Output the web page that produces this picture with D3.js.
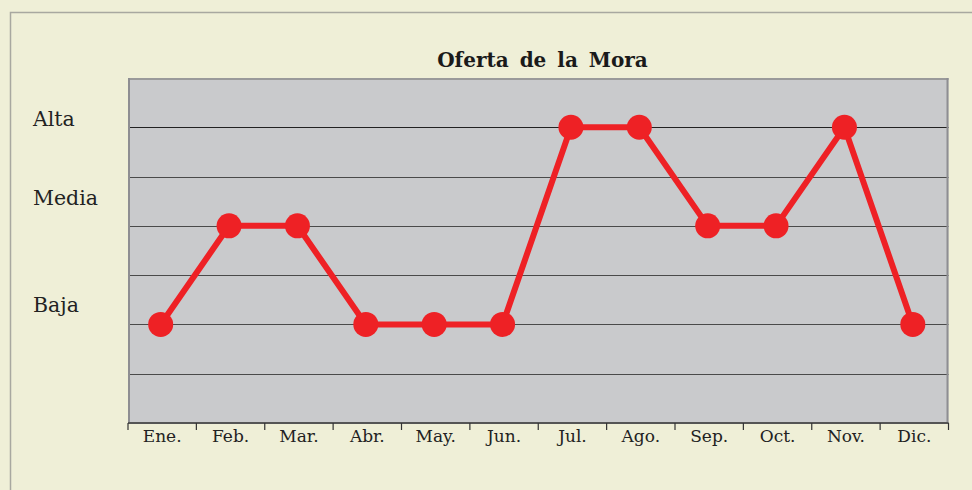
<!DOCTYPE html>
<html>
<head>
<meta charset="utf-8">
<script src="https://cdn.jsdelivr.net/npm/d3@7"></script>
<style>
  html, body { margin: 0; padding: 0; background: #EFEFD7; }
  svg { display: block; }
</style>
</head>
<body>
<svg id="chart" width="972" height="490"></svg>
<script>
const months = ["Ene.", "Feb.", "Mar.", "Abr.", "May.", "Jun.", "Jul.", "Ago.", "Sep.", "Oct.", "Nov.", "Dic."];
const levelLabels = ["Baja", "Media", "Alta"];
const levelValues = [2, 4, 6];
const oferta = [2, 4, 4, 2, 2, 2, 6, 6, 4, 4, 6, 2];
const gridValues = [1, 2, 3, 4, 5, 6];
const title = "Oferta de la Mora";

const svg = d3.select("#chart");
const W = 972, H = 490;
const plot = { left: 128, top: 78, right: 948.5, bottom: 423 };

svg.append("rect").attr("x", 0).attr("y", 0).attr("width", W).attr("height", H).attr("fill", "#EFEFD7");
svg.append("rect").attr("x", 10.5).attr("y", 12.5).attr("width", 1000).attr("height", 1000)
  .attr("fill", "none").attr("stroke", "#A8A8A0").attr("stroke-width", 1.5);

const x = d3.scaleBand().domain(months).range([plot.left, plot.right]).paddingInner(0).paddingOuter(0);
const y = d3.scaleLinear().domain([0, 7]).range([plot.bottom, plot.top]);

svg.append("rect").attr("x", plot.left).attr("y", plot.top)
  .attr("width", plot.right - plot.left).attr("height", plot.bottom - plot.top)
  .attr("fill", "#C9CACC");

// grid
svg.append("g").selectAll("line").data(gridValues).join("line")
  .attr("x1", plot.left).attr("x2", plot.right)
  .attr("y1", d => Math.round(y(d)) + 0.5).attr("y2", d => Math.round(y(d)) + 0.5)
  .attr("stroke", d => d === 6 ? "#222" : "#4a4a4a").attr("stroke-width", 1.2);

// plot borders
svg.append("line").attr("x1", plot.left).attr("x2", plot.right).attr("y1", plot.top + 1).attr("y2", plot.top + 1)
  .attr("stroke", "#9a9a9a").attr("stroke-width", 2);
svg.append("line").attr("x1", plot.left + 1).attr("x2", plot.left + 1).attr("y1", plot.top).attr("y2", plot.bottom)
  .attr("stroke", "#8e8e92").attr("stroke-width", 2);
svg.append("line").attr("x1", plot.right - 1).attr("x2", plot.right - 1).attr("y1", plot.top).attr("y2", plot.bottom)
  .attr("stroke", "#8e8e92").attr("stroke-width", 2);

// x axis
const xAxis = svg.append("g").attr("transform", `translate(0,${plot.bottom})`);
xAxis.append("line").attr("x1", plot.left).attr("x2", plot.right).attr("y1", 0).attr("y2", 0)
  .attr("stroke", "#555").attr("stroke-width", 2);
const tickPos = months.map(m => x(m)).concat([plot.right]);
xAxis.selectAll("line.tick").data(tickPos).join("line").attr("class", "tick")
  .attr("x1", d => d).attr("x2", d => d).attr("y1", 0).attr("y2", 7)
  .attr("stroke", "#333").attr("stroke-width", 1.2);
xAxis.selectAll("text").data(months).join("text")
  .attr("x", d => x(d) + x.bandwidth() / 2).attr("y", 19)
  .attr("text-anchor", "middle")
  .attr("font-family", "DejaVu Serif").attr("font-size", 17)
  .attr("fill", "#222").text(d => d);

// y labels
svg.append("g").selectAll("text").data(levelLabels).join("text")
  .attr("x", 33).attr("y", (d, i) => [311.5, 205, 126][i])
  .attr("font-family", "DejaVu Serif").attr("font-size", 20.5)
  .attr("fill", "#222").text(d => d);

// title
svg.append("text").attr("x", (436 + 649) / 2).attr("y", 67)
  .attr("text-anchor", "middle")
  .attr("font-family", "DejaVu Serif").attr("font-weight", "bold").attr("font-size", 20)
  .attr("word-spacing", 4)
  .attr("fill", "#1a1a1a").text(title);

// line
const line = d3.line().x((d, i) => x(months[i]) + x.bandwidth() / 2 - 1.5).y(d => y(d));
svg.append("path").datum(oferta).attr("d", line)
  .attr("fill", "none").attr("stroke", "#EE2125").attr("stroke-width", 6).attr("stroke-linejoin", "miter");
svg.append("g").selectAll("circle").data(oferta).join("circle")
  .attr("cx", (d, i) => x(months[i]) + x.bandwidth() / 2 - 1.5)
  .attr("cy", d => y(d)).attr("r", 12.5).attr("fill", "#EE2125");
</script>
</body>
</html>
